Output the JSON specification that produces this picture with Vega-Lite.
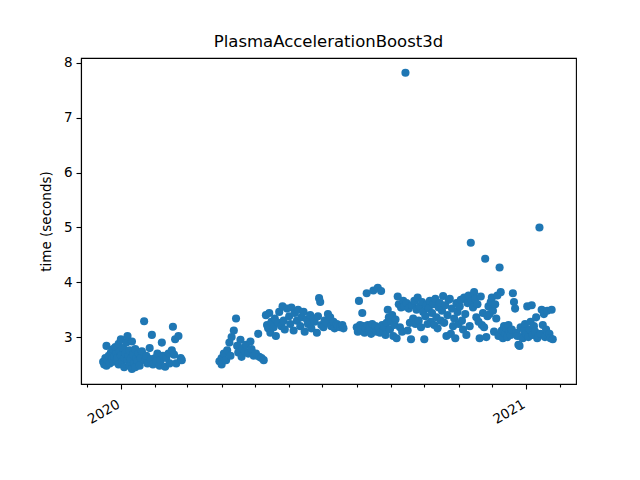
{
  "$schema": "https://vega.github.io/schema/vega-lite/v6.json",
  "autosize": {"type": "none"},
  "width": 495,
  "height": 326,
  "padding": {"left": 81, "top": 58, "right": 64, "bottom": 96},
  "background": "white",
  "title": {"text": "PlasmaAccelerationBoost3d", "font": "DejaVu Sans", "fontSize": 16.5, "fontWeight": "normal", "color": "black", "anchor": "middle", "offset": 5},
  "config": {
    "view": {"stroke": "black", "strokeWidth": 1.1},
    "axis": {"domainColor": "black", "tickColor": "black", "labelColor": "black", "titleColor": "black", "labelFont": "DejaVu Sans", "titleFont": "DejaVu Sans", "labelFontSize": 13.5, "titleFontSize": 13.5, "titleFontWeight": "normal", "grid": false, "domainWidth": 1.1, "tickWidth": 1.1}
  },
  "data": {"values": [
    {"d":"2019-12-16","t":2.55},{"d":"2019-12-17","t":2.50},{"d":"2019-12-18","t":2.62},{"d":"2019-12-19","t":2.84},{"d":"2019-12-19","t":2.48},
    {"d":"2019-12-20","t":2.58},{"d":"2019-12-21","t":2.66},{"d":"2019-12-22","t":2.52},{"d":"2019-12-23","t":2.72},{"d":"2019-12-24","t":2.60},
    {"d":"2019-12-25","t":2.78},{"d":"2019-12-25","t":2.55},{"d":"2019-12-26","t":2.64},{"d":"2019-12-27","t":2.82},{"d":"2019-12-28","t":2.70},
    {"d":"2019-12-28","t":2.58},{"d":"2019-12-29","t":2.62},{"d":"2019-12-30","t":2.88},{"d":"2019-12-30","t":2.50},{"d":"2019-12-31","t":2.74},
    {"d":"2020-01-01","t":2.66},{"d":"2020-01-01","t":2.96},{"d":"2020-01-02","t":2.56},{"d":"2020-01-03","t":2.80},{"d":"2020-01-04","t":2.62},
    {"d":"2020-01-04","t":2.45},{"d":"2020-01-05","t":2.70},{"d":"2020-01-06","t":2.90},{"d":"2020-01-07","t":3.02},{"d":"2020-01-07","t":2.58},
    {"d":"2020-01-08","t":2.66},{"d":"2020-01-09","t":2.48},{"d":"2020-01-09","t":2.76},{"d":"2020-01-10","t":2.60},{"d":"2020-01-11","t":2.92},
    {"d":"2020-01-11","t":2.42},{"d":"2020-01-12","t":2.68},{"d":"2020-01-13","t":2.52},{"d":"2020-01-14","t":2.78},{"d":"2020-01-14","t":2.45},
    {"d":"2020-01-15","t":2.62},{"d":"2020-01-16","t":2.56},{"d":"2020-01-17","t":2.70},{"d":"2020-01-18","t":2.48},{"d":"2020-01-19","t":2.62},
    {"d":"2020-01-20","t":2.74},{"d":"2020-01-22","t":3.29},{"d":"2020-01-23","t":2.58},{"d":"2020-01-24","t":2.66},{"d":"2020-01-25","t":2.52},
    {"d":"2020-01-27","t":2.80},{"d":"2020-01-28","t":2.60},{"d":"2020-01-29","t":3.04},{"d":"2020-01-30","t":2.50},{"d":"2020-02-01","t":2.62},
    {"d":"2020-02-02","t":2.56},{"d":"2020-02-03","t":2.70},{"d":"2020-02-05","t":2.48},{"d":"2020-02-06","t":2.58},{"d":"2020-02-07","t":2.90},
    {"d":"2020-02-08","t":2.66},{"d":"2020-02-10","t":2.46},{"d":"2020-02-11","t":2.62},{"d":"2020-02-13","t":2.70},{"d":"2020-02-14","t":2.52},
    {"d":"2020-02-16","t":2.76},{"d":"2020-02-17","t":3.19},{"d":"2020-02-18","t":2.68},{"d":"2020-02-19","t":2.96},{"d":"2020-02-20","t":2.52},
    {"d":"2020-02-22","t":3.02},{"d":"2020-02-24","t":2.62},{"d":"2020-02-25","t":2.58},
    {"d":"2020-03-30","t":2.56},{"d":"2020-04-01","t":2.62},{"d":"2020-04-01","t":2.50},{"d":"2020-04-03","t":2.70},{"d":"2020-04-05","t":2.58},
    {"d":"2020-04-06","t":2.76},{"d":"2020-04-08","t":2.90},{"d":"2020-04-09","t":2.66},{"d":"2020-04-10","t":3.00},{"d":"2020-04-12","t":3.12},
    {"d":"2020-04-14","t":3.34},{"d":"2020-04-15","t":2.84},{"d":"2020-04-16","t":2.72},{"d":"2020-04-18","t":2.95},{"d":"2020-04-19","t":2.64},
    {"d":"2020-04-20","t":2.80},{"d":"2020-04-22","t":2.74},{"d":"2020-04-23","t":2.86},{"d":"2020-04-25","t":2.70},{"d":"2020-04-27","t":2.92},
    {"d":"2020-04-28","t":2.78},{"d":"2020-04-30","t":2.66},{"d":"2020-05-02","t":2.70},{"d":"2020-05-04","t":3.06},{"d":"2020-05-05","t":2.64},
    {"d":"2020-05-07","t":2.62},{"d":"2020-05-09","t":2.58},{"d":"2020-05-11","t":3.40},{"d":"2020-05-12","t":3.22},{"d":"2020-05-13","t":3.16},
    {"d":"2020-05-14","t":3.44},{"d":"2020-05-15","t":3.08},{"d":"2020-05-16","t":3.28},{"d":"2020-05-18","t":3.18},{"d":"2020-05-19","t":3.34},
    {"d":"2020-05-20","t":3.02},{"d":"2020-05-22","t":3.26},{"d":"2020-05-23","t":3.46},{"d":"2020-05-25","t":3.20},{"d":"2020-05-26","t":3.56},
    {"d":"2020-05-27","t":3.30},{"d":"2020-05-28","t":3.14},{"d":"2020-05-30","t":3.52},{"d":"2020-06-01","t":3.38},{"d":"2020-06-02","t":3.24},
    {"d":"2020-06-03","t":3.54},{"d":"2020-06-05","t":3.12},{"d":"2020-06-06","t":3.44},{"d":"2020-06-08","t":3.30},{"d":"2020-06-09","t":3.50},
    {"d":"2020-06-11","t":3.20},{"d":"2020-06-12","t":3.36},{"d":"2020-06-14","t":3.46},{"d":"2020-06-15","t":3.10},{"d":"2020-06-17","t":3.32},
    {"d":"2020-06-18","t":3.24},{"d":"2020-06-20","t":3.40},{"d":"2020-06-21","t":3.16},{"d":"2020-06-23","t":3.34},{"d":"2020-06-24","t":3.28},
    {"d":"2020-06-26","t":3.08},{"d":"2020-06-27","t":3.38},{"d":"2020-06-28","t":3.71},{"d":"2020-06-29","t":3.64},{"d":"2020-06-30","t":3.22},
    {"d":"2020-07-02","t":3.18},{"d":"2020-07-03","t":3.30},{"d":"2020-07-05","t":3.26},{"d":"2020-07-06","t":3.42},{"d":"2020-07-08","t":3.36},
    {"d":"2020-07-09","t":3.20},{"d":"2020-07-11","t":3.28},{"d":"2020-07-12","t":3.16},{"d":"2020-07-14","t":3.24},{"d":"2020-07-15","t":3.20},
    {"d":"2020-07-17","t":3.18},{"d":"2020-07-19","t":3.22},{"d":"2020-07-20","t":3.16},
    {"d":"2020-08-01","t":3.18},{"d":"2020-08-02","t":3.10},{"d":"2020-08-03","t":3.66},{"d":"2020-08-04","t":3.22},{"d":"2020-08-05","t":3.14},
    {"d":"2020-08-06","t":3.44},{"d":"2020-08-07","t":3.20},{"d":"2020-08-08","t":3.08},{"d":"2020-08-09","t":3.16},{"d":"2020-08-10","t":3.80},
    {"d":"2020-08-11","t":3.22},{"d":"2020-08-12","t":3.12},{"d":"2020-08-13","t":3.18},{"d":"2020-08-14","t":3.06},{"d":"2020-08-15","t":3.24},
    {"d":"2020-08-16","t":3.85},{"d":"2020-08-17","t":3.14},{"d":"2020-08-18","t":3.20},{"d":"2020-08-19","t":3.10},{"d":"2020-08-20","t":3.90},
    {"d":"2020-08-21","t":3.16},{"d":"2020-08-22","t":3.08},{"d":"2020-08-23","t":3.84},{"d":"2020-08-24","t":3.22},{"d":"2020-08-25","t":3.12},
    {"d":"2020-08-26","t":3.18},{"d":"2020-08-27","t":3.04},{"d":"2020-08-28","t":3.26},{"d":"2020-08-29","t":3.50},{"d":"2020-08-30","t":3.36},
    {"d":"2020-08-31","t":3.14},{"d":"2020-09-01","t":3.28},{"d":"2020-09-02","t":3.40},{"d":"2020-09-03","t":3.02},{"d":"2020-09-04","t":3.22},
    {"d":"2020-09-05","t":3.32},{"d":"2020-09-06","t":2.98},{"d":"2020-09-07","t":3.74},{"d":"2020-09-08","t":3.60},{"d":"2020-09-09","t":3.18},
    {"d":"2020-09-10","t":3.54},{"d":"2020-09-11","t":3.10},{"d":"2020-09-12","t":3.66},{"d":"2020-09-13","t":3.56},{"d":"2020-09-14","t":7.82},
    {"d":"2020-09-15","t":3.62},{"d":"2020-09-16","t":3.12},{"d":"2020-09-17","t":3.52},{"d":"2020-09-18","t":3.26},{"d":"2020-09-19","t":2.96},
    {"d":"2020-09-20","t":3.58},{"d":"2020-09-21","t":3.34},{"d":"2020-09-22","t":3.66},{"d":"2020-09-23","t":3.24},{"d":"2020-09-24","t":3.50},
    {"d":"2020-09-25","t":3.72},{"d":"2020-09-26","t":3.30},{"d":"2020-09-27","t":3.56},{"d":"2020-09-28","t":3.18},{"d":"2020-09-29","t":3.64},
    {"d":"2020-09-30","t":3.46},{"d":"2020-10-01","t":2.96},{"d":"2020-10-02","t":3.38},{"d":"2020-10-03","t":3.58},{"d":"2020-10-04","t":3.24},
    {"d":"2020-10-05","t":3.52},{"d":"2020-10-06","t":3.66},{"d":"2020-10-07","t":3.28},{"d":"2020-10-08","t":3.44},{"d":"2020-10-09","t":3.60},
    {"d":"2020-10-10","t":3.22},{"d":"2020-10-11","t":3.70},{"d":"2020-10-12","t":3.36},{"d":"2020-10-13","t":3.16},{"d":"2020-10-14","t":3.54},
    {"d":"2020-10-15","t":3.62},{"d":"2020-10-16","t":3.30},{"d":"2020-10-17","t":3.48},{"d":"2020-10-18","t":3.75},{"d":"2020-10-19","t":3.26},
    {"d":"2020-10-20","t":3.58},{"d":"2020-10-21","t":3.02},{"d":"2020-10-22","t":3.40},{"d":"2020-10-23","t":3.68},{"d":"2020-10-24","t":3.70},
    {"d":"2020-10-25","t":3.06},{"d":"2020-10-26","t":3.52},{"d":"2020-10-27","t":3.20},{"d":"2020-10-28","t":3.34},{"d":"2020-10-29","t":2.98},
    {"d":"2020-10-30","t":3.62},{"d":"2020-10-31","t":3.46},{"d":"2020-11-01","t":3.24},{"d":"2020-11-02","t":3.56},{"d":"2020-11-03","t":3.68},
    {"d":"2020-11-04","t":3.30},{"d":"2020-11-05","t":3.14},{"d":"2020-11-06","t":3.72},{"d":"2020-11-07","t":3.42},{"d":"2020-11-08","t":3.04},
    {"d":"2020-11-09","t":3.62},{"d":"2020-11-10","t":3.76},{"d":"2020-11-11","t":3.20},{"d":"2020-11-12","t":4.72},{"d":"2020-11-13","t":3.66},
    {"d":"2020-11-14","t":3.54},{"d":"2020-11-15","t":3.82},{"d":"2020-11-16","t":3.70},{"d":"2020-11-17","t":3.36},{"d":"2020-11-18","t":3.60},
    {"d":"2020-11-19","t":3.28},{"d":"2020-11-20","t":2.98},{"d":"2020-11-21","t":3.74},{"d":"2020-11-22","t":3.22},{"d":"2020-11-23","t":3.44},
    {"d":"2020-11-24","t":3.18},{"d":"2020-11-25","t":4.43},{"d":"2020-11-26","t":3.00},{"d":"2020-11-27","t":3.38},{"d":"2020-11-28","t":3.56},
    {"d":"2020-11-29","t":3.42},{"d":"2020-11-30","t":3.64},{"d":"2020-12-01","t":3.72},{"d":"2020-12-02","t":3.48},{"d":"2020-12-03","t":3.10},
    {"d":"2020-12-04","t":3.60},{"d":"2020-12-05","t":3.34},{"d":"2020-12-06","t":3.76},{"d":"2020-12-07","t":3.02},{"d":"2020-12-08","t":4.27},
    {"d":"2020-12-09","t":3.82},{"d":"2020-12-10","t":3.12},{"d":"2020-12-11","t":2.98},{"d":"2020-12-12","t":3.20},{"d":"2020-12-13","t":3.06},
    {"d":"2020-12-14","t":3.16},{"d":"2020-12-15","t":3.00},{"d":"2020-12-16","t":3.22},{"d":"2020-12-17","t":3.10},{"d":"2020-12-18","t":3.04},
    {"d":"2020-12-19","t":3.14},{"d":"2020-12-20","t":3.80},{"d":"2020-12-21","t":3.64},{"d":"2020-12-22","t":3.52},{"d":"2020-12-23","t":3.08},
    {"d":"2020-12-24","t":3.02},{"d":"2020-12-25","t":2.86},{"d":"2020-12-26","t":2.84},{"d":"2020-12-27","t":3.18},{"d":"2020-12-28","t":3.00},
    {"d":"2020-12-29","t":2.98},{"d":"2020-12-30","t":3.12},{"d":"2020-12-31","t":3.24},{"d":"2021-01-01","t":3.06},{"d":"2021-01-02","t":3.56},
    {"d":"2021-01-03","t":3.00},{"d":"2021-01-04","t":3.14},{"d":"2021-01-05","t":3.28},{"d":"2021-01-06","t":3.58},{"d":"2021-01-07","t":3.04},
    {"d":"2021-01-08","t":3.20},{"d":"2021-01-09","t":3.10},{"d":"2021-01-10","t":3.36},{"d":"2021-01-11","t":2.98},{"d":"2021-01-12","t":3.02},
    {"d":"2021-01-13","t":5.00},{"d":"2021-01-14","t":3.06},{"d":"2021-01-15","t":3.50},{"d":"2021-01-16","t":3.22},{"d":"2021-01-17","t":3.42},
    {"d":"2021-01-18","t":3.00},{"d":"2021-01-19","t":3.14},{"d":"2021-01-20","t":3.48},{"d":"2021-01-21","t":3.02},{"d":"2021-01-22","t":3.06},
    {"d":"2021-01-23","t":2.98},{"d":"2021-01-24","t":3.50},{"d":"2021-01-25","t":2.96}
  ]},
  "mark": {"type": "circle", "size": 66, "opacity": 1, "color": "#1f77b4"},
  "encoding": {
    "x": {
      "field": "d", "type": "temporal", "title": null,
      "scale": {"type": "utc", "domain": [{"year": 2019, "month": 11, "date": 26, "utc": true}, {"year": 2021, "month": 2, "date": 15, "utc": true}], "nice": false},
      "axis": {
        "values": [
          {"year": 2019, "month": 12, "date": 1, "utc": true},
          {"year": 2020, "month": 1, "date": 1, "utc": true},
          {"year": 2020, "month": 2, "date": 1, "utc": true},
          {"year": 2020, "month": 3, "date": 1, "utc": true},
          {"year": 2020, "month": 4, "date": 1, "utc": true},
          {"year": 2020, "month": 5, "date": 1, "utc": true},
          {"year": 2020, "month": 6, "date": 1, "utc": true},
          {"year": 2020, "month": 7, "date": 1, "utc": true},
          {"year": 2020, "month": 8, "date": 1, "utc": true},
          {"year": 2020, "month": 9, "date": 1, "utc": true},
          {"year": 2020, "month": 10, "date": 1, "utc": true},
          {"year": 2020, "month": 11, "date": 1, "utc": true},
          {"year": 2020, "month": 12, "date": 1, "utc": true},
          {"year": 2021, "month": 1, "date": 1, "utc": true},
          {"year": 2021, "month": 2, "date": 1, "utc": true}
        ],
        "labelExpr": "utcmonth(datum.value) == 0 ? utcFormat(datum.value, '%Y') : ''",
        "tickSize": {"condition": {"test": "utcmonth(datum.value) == 0", "value": 5}, "value": 3},
        "labelAngle": -30, "labelAlign": "right", "labelBaseline": "top", "labelPadding": 8, "labelOffset": -6,
        "labelOverlap": false, "labelFlush": false, "labelBound": false
      }
    },
    "y": {
      "field": "t", "type": "quantitative", "title": "time (seconds)",
      "scale": {"domain": [2.145, 8.09], "nice": false, "zero": false},
      "axis": {"values": [3, 4, 5, 6, 7, 8], "tickSize": 5, "labelPadding": 4, "titlePadding": 10, "labelFlush": false, "labelOverlap": false}
    }
  }
}
